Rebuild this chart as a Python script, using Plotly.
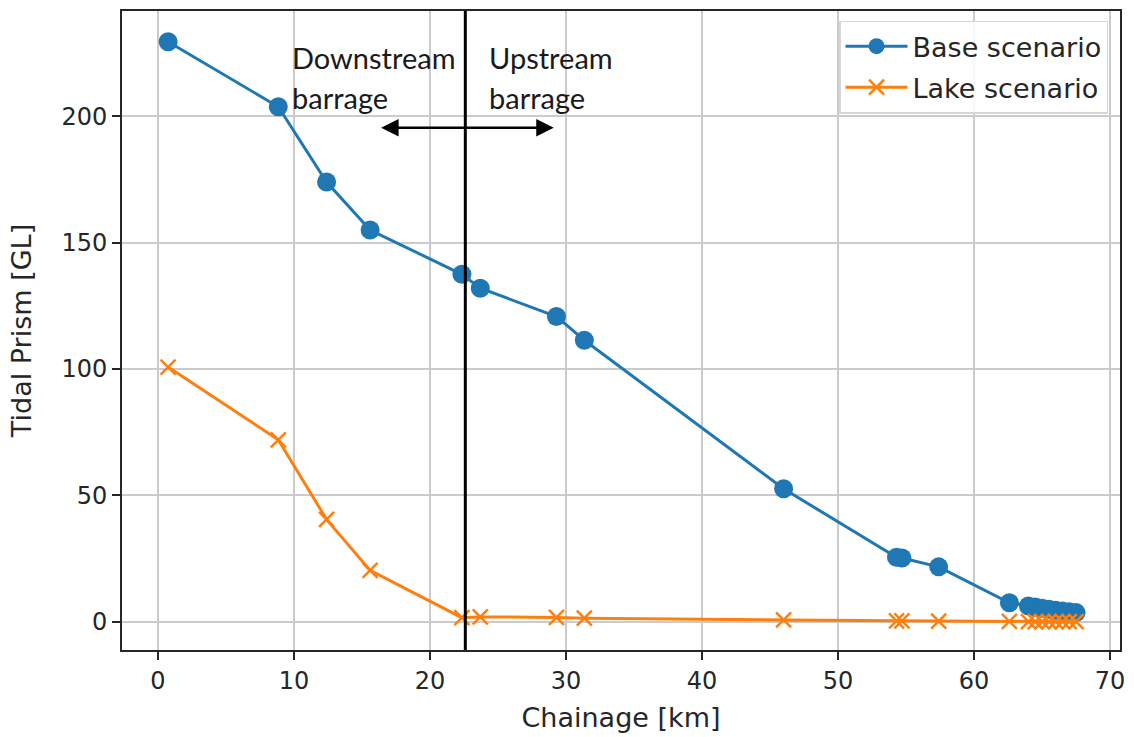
import plotly.graph_objects as go

chainage_km = [0.75, 8.85, 12.4, 15.6, 22.35, 23.7, 29.3, 31.35, 46.0, 54.3, 54.7,
               57.4, 62.6, 64.0, 64.5, 65.0, 65.5, 66.0, 66.5, 67.0, 67.5]
base_prism = [229.5, 203.8, 174.0, 155.0, 137.5, 132.0, 120.8, 111.4, 52.6, 25.5, 25.2,
              21.7, 7.5, 6.2, 5.8, 5.3, 4.9, 4.5, 4.2, 3.9, 3.6]
lake_prism = [100.8, 72.0, 40.5, 20.3, 1.6, 1.9, 1.7, 1.4, 0.7, 0.3, 0.3,
              0.2, 0.1, 0.05, 0.05, 0.05, 0.05, 0.05, 0.05, 0.05, 0.05]

barrage_km = 22.6
arrow_left_km = 16.3
arrow_right_km = 29.1
arrow_level = 195.5

x_ticks = [0, 10, 20, 30, 40, 50, 60, 70]
y_ticks = [0, 50, 100, 150, 200]

BLUE = "#1f77b4"
ORANGE = "#ff7f0e"
AXIS_FONT = "DejaVu Sans"
NOTE_FONT = "Lato"

fig = go.Figure()
fig.add_trace(go.Scatter(
    x=chainage_km, y=base_prism, mode="lines+markers", name="Base scenario",
    line=dict(color=BLUE, width=3),
    marker=dict(symbol="circle", size=19, color=BLUE),
    legendgroup="a",
))
fig.add_trace(go.Scatter(
    x=chainage_km, y=lake_prism, mode="lines+markers", name="Lake scenario",
    line=dict(color=ORANGE, width=3),
    marker=dict(symbol="x-thin", size=15, color=ORANGE, line=dict(color=ORANGE, width=2.5)),
    legendgroup="b",
))

# barrage vertical line
fig.add_shape(type="line", xref="x", yref="paper", x0=barrage_km, x1=barrage_km,
              y0=0, y1=1, line=dict(color="black", width=3), layer="above")

# double-headed arrow
fig.add_annotation(x=arrow_right_km, y=arrow_level, ax=arrow_left_km, ay=arrow_level,
                   xref="x", yref="y", axref="x", ayref="y", text="",
                   showarrow=True, arrowhead=2, startarrowhead=2, arrowside="end+start",
                   arrowsize=1.4, startarrowsize=1.4, arrowwidth=2.5, arrowcolor="black",
                   standoff=0, startstandoff=0)

note_font = dict(family=NOTE_FONT, size=29, color="#1a1a1a")
for txt, xpix, ypix in [("Downstream", 290, 56), ("barrage", 290, 96),
                        ("Upstream", 488, 56), ("barrage", 488, 96)]:
    fig.add_annotation(x=(xpix - 122) / 1000.7, y=1 - (ypix - 9) / 642.0,
                       xref="paper", yref="paper", text=txt, showarrow=False,
                       xanchor="left", yanchor="middle", font=note_font)

fig.update_layout(
    width=1134, height=737,
    margin=dict(l=122, r=11, t=9, b=86),
    paper_bgcolor="white", plot_bgcolor="white",
    font=dict(family=AXIS_FONT, size=25, color="#262626"),
    legend=dict(
        x=0.988, y=0.985, xanchor="right", yanchor="top",
        bgcolor="rgba(255,255,255,0.85)", bordercolor="#d6d6d6", borderwidth=1.5,
        font=dict(family=AXIS_FONT, size=27, color="#262626"),
        itemwidth=62, tracegroupgap=3,
    ),
    showlegend=True,
)

axis_common = dict(
    showline=True, mirror=True, linecolor="#262626", linewidth=2,
    ticks="outside", ticklen=8, tickwidth=2, tickcolor="#262626",
    showgrid=True, gridcolor="#cbcbcb", gridwidth=2, zeroline=False,
    tickfont=dict(family=AXIS_FONT, size=24, color="#262626"),
)
fig.update_xaxes(range=[-2.64, 70.73], tickmode="array", tickvals=x_ticks,
                 ticktext=[str(v) for v in x_ticks],
                 title=dict(text="Chainage [km]", font=dict(family=AXIS_FONT, size=27), standoff=14),
                 **axis_common)
fig.update_yaxes(range=[-11.2, 241.7], tickmode="array", tickvals=y_ticks,
                 ticktext=[str(v) for v in y_ticks],
                 title=dict(text="Tidal Prism [GL]", font=dict(family=AXIS_FONT, size=27), standoff=22),
                 **axis_common)

fig.write_html("out.html")
